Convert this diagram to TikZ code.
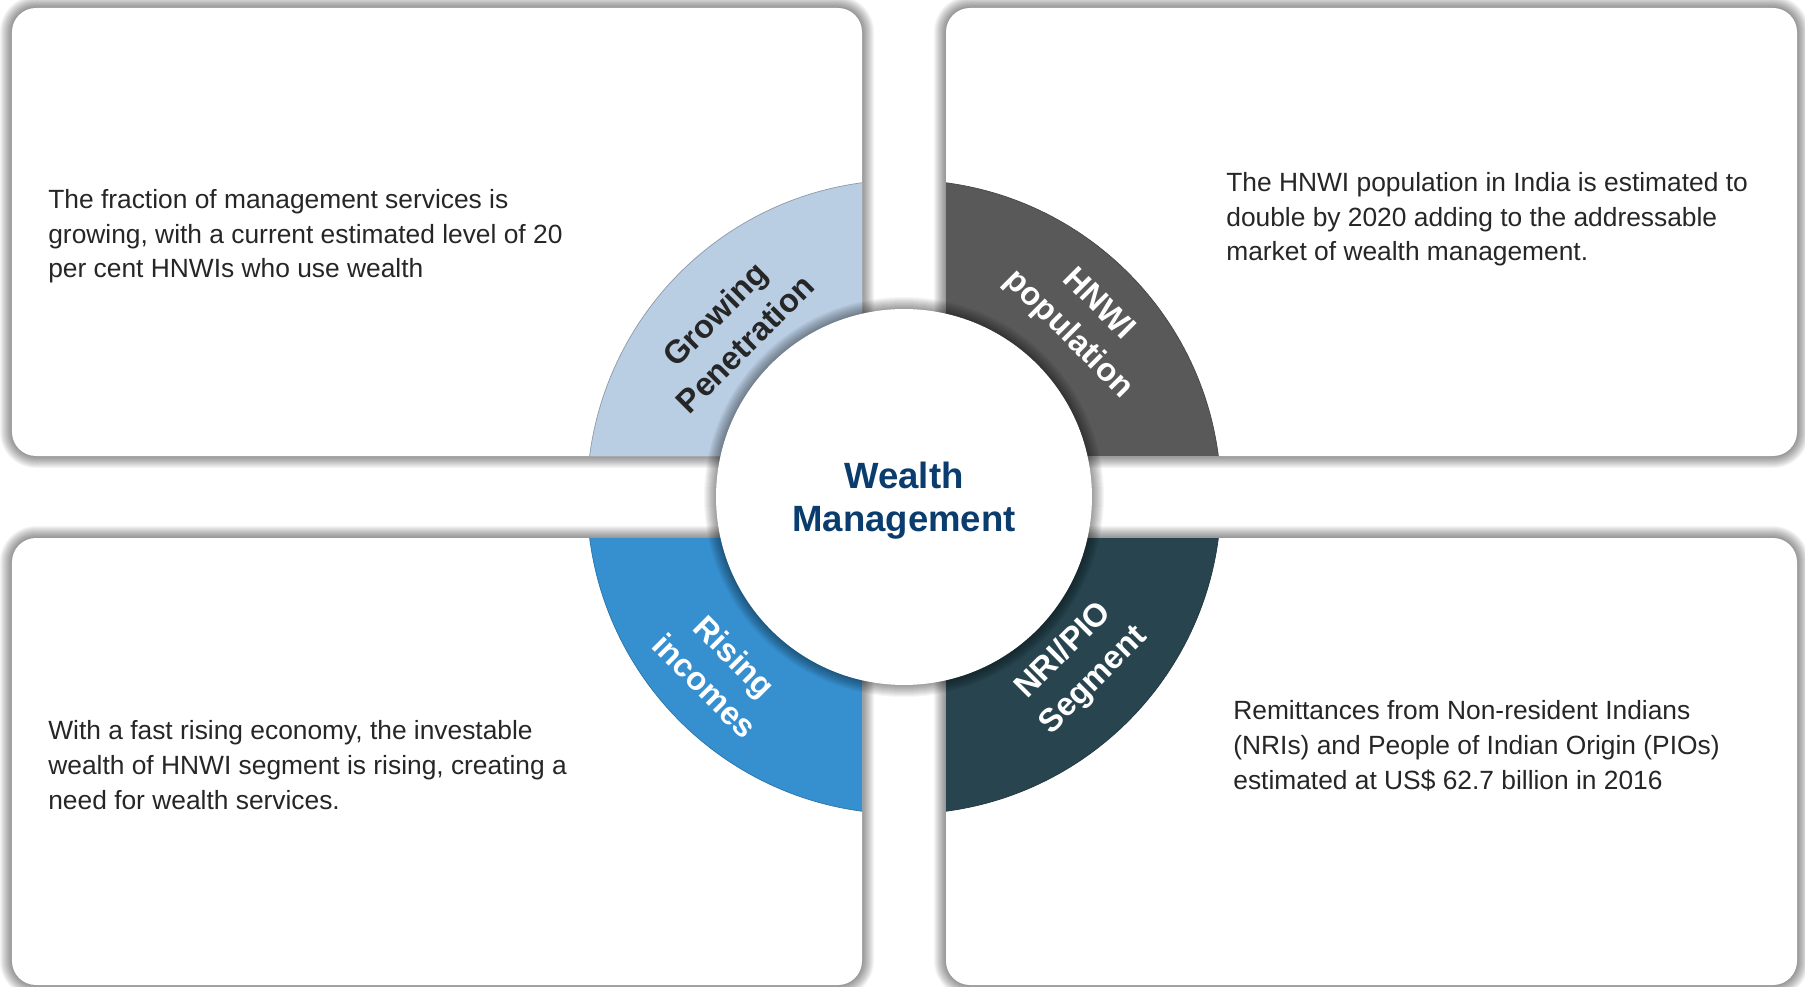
\documentclass[tikz,border=0pt]{standalone}
\usepackage{fontspec}
\setmainfont{Liberation Sans}
\usepackage{xcolor}
\usepackage{tikz}

\definecolor{penblue}{HTML}{B9CDE3}
\definecolor{hnwigray}{HTML}{595959}
\definecolor{riseblue}{HTML}{3690D0}
\definecolor{nriteal}{HTML}{28454F}
\definecolor{titleblue}{HTML}{0A3D6E}
\definecolor{bodygray}{HTML}{262626}

\begin{document}
\begin{tikzpicture}[x=0.02cm, y=0.02cm]

		\tikzset{
			boxshade/.style={black, opacity=0.04},
			ringshade/.style={black, opacity=0.035},
			ringlabel/.style={font=\bfseries\fontsize{18.5}{23.9}\selectfont, align=center, inner sep=0pt},
			bodytext/.style={font=\fontsize{15}{19.9}\selectfont, align=left, anchor=base west, inner sep=0pt, text=bodygray},
		}
		
		\useasboundingbox (-904,-490) rectangle (901,497);
		\fill [white] (-904,-490) rectangle (901,497);
		
		% soft shadows round the four boxes
		\foreach \s in {1,...,12}{
			\fill [boxshade, rounded corners=0.48cm+\s*0.02cm] (-892-\s,41-\s) rectangle (-42+\s,489+\s);
			\fill [boxshade, rounded corners=0.48cm+\s*0.02cm] (42-\s,41-\s) rectangle (893+\s,489+\s);
			\fill [boxshade, rounded corners=0.48cm+\s*0.02cm] (-892-\s,-488-\s) rectangle (-42+\s,-41+\s);
			\fill [boxshade, rounded corners=0.48cm+\s*0.02cm] (42-\s,-488-\s) rectangle (893+\s,-41+\s);
		}
		
		\fill [white, rounded corners=0.48cm] (-892,41) rectangle (-42,489);
		\fill [white, rounded corners=0.48cm] (42,41) rectangle (893,489);
		\fill [white, rounded corners=0.48cm] (-892,-488) rectangle (-42,-41);
		\fill [white, rounded corners=0.48cm] (42,-488) rectangle (893,-41);
		
		% quarter rings
		\begin{scope}
			\clip [rounded corners=0.48cm] (-892,41) rectangle (-42,489);
			\fill [penblue, draw=penblue!75!black, line width=0.4pt] (0,0) circle (317);
		\end{scope}
		\begin{scope}
			\clip [rounded corners=0.48cm] (42,41) rectangle (893,489);
			\fill [hnwigray, draw=hnwigray!80!black, line width=0.4pt] (0,0) circle (317);
		\end{scope}
		\begin{scope}
			\clip [rounded corners=0.48cm] (-892,-488) rectangle (-42,-41);
			\fill [riseblue, draw=riseblue!80!black, line width=0.4pt] (0,0) circle (317);
		\end{scope}
		\begin{scope}
			\clip [rounded corners=0.48cm] (42,-488) rectangle (893,-41);
			\fill [nriteal, draw=nriteal!80!black, line width=0.4pt] (0,0) circle (317);
		\end{scope}
		
		% centre disc
		\foreach \rr in {189,...,200}
			\fill [ringshade] (0,0) circle (\rr);
		\node (core) [circle, fill=white, minimum size=7.52cm, inner sep=0pt] at (0,0) {};
		\node (title) [align=center, text=titleblue, font=\bfseries\fontsize{20.8}{24.5}\selectfont] at (0,-4) {Wealth\\Management};
		
		\node (pen) [ringlabel, text=bodygray, rotate=45] at (-174,168) {Growing\\Penetration};
		\node (hnwi) [ringlabel, text=white, rotate=-45] at (179,177) {HNWI\\population};
		\node (rise) [ringlabel, text=white, rotate=-45] at (-184,-174) {Rising\\incomes};
		\node (nri) [ringlabel, text=white, rotate=45] at (175,-169) {NRI/PIO\\Segment};
		
		% base anchor sits on the last line
		\node (pentext) [bodytext] at (-856,219) {The fraction of management services is\\growing, with a current estimated level of 20\\per cent HNWIs who use wealth};
		\node (hnwitext) [bodytext] at (322,236) {The HNWI population in India is estimated to\\double by 2020 adding to the addressable\\market of wealth management.};
		\node (risetext) [bodytext] at (-856,-312) {With a fast rising economy, the investable\\wealth of HNWI segment is rising, creating a\\need for wealth services.};
		\node (nritext) [bodytext] at (329,-292) {Remittances from Non-resident Indians\\(NRIs) and People of Indian Origin (PIOs)\\estimated at US\$ 62.7 billion in 2016};
		
\end{tikzpicture}
\end{document}
